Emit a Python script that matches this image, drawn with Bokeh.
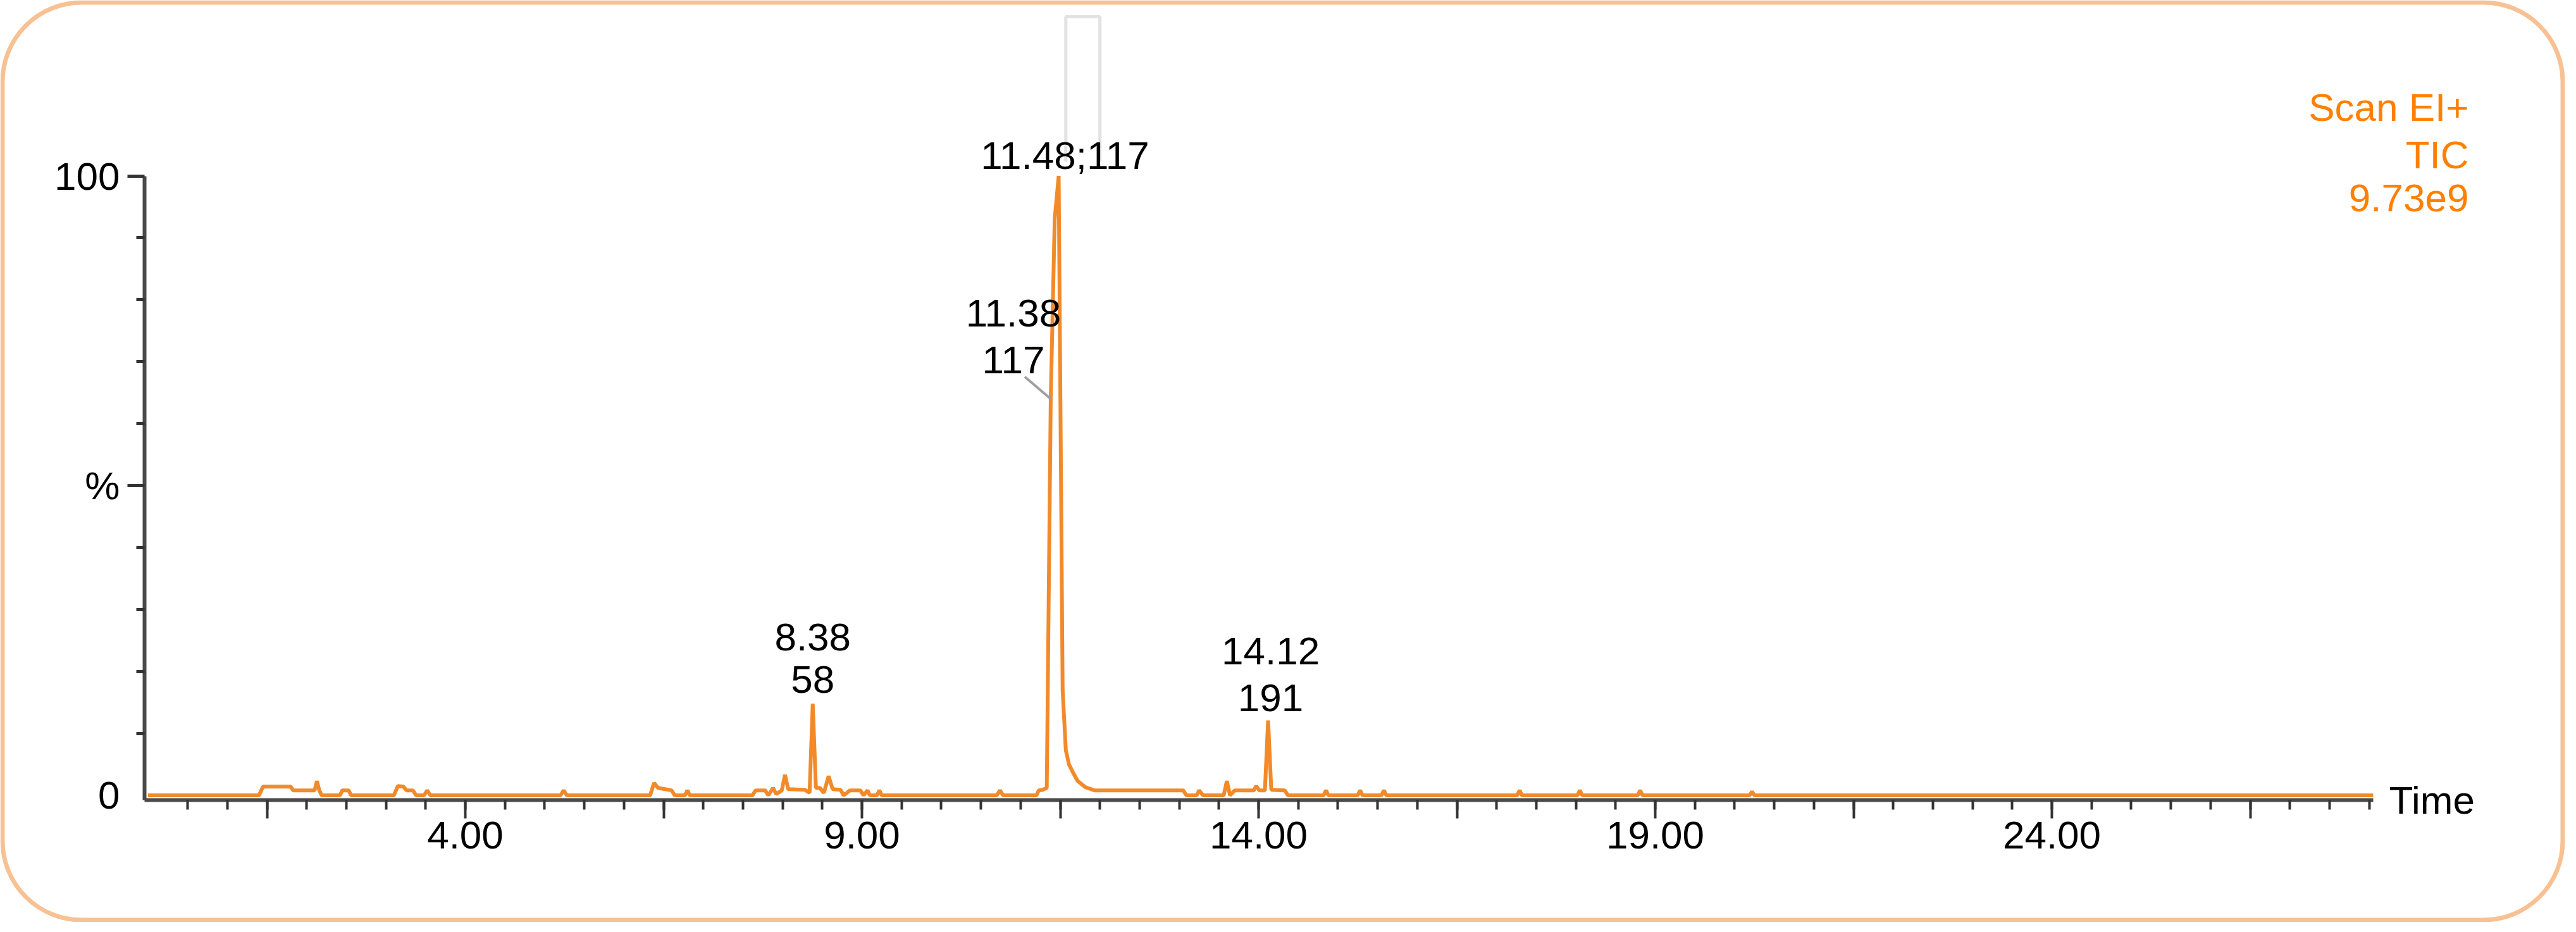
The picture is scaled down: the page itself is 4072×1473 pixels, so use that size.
from bokeh.plotting import figure
from bokeh.models import (Range1d, FixedTicker, PrintfTickFormatter, Label, BoxAnnotation,
                          LinearAxis)
from bokeh.embed import file_html
from bokeh.resources import INLINE

# ---------------- data ----------------
time_min = [0.00, 1.40, 1.45, 1.80, 1.83, 2.10, 2.13, 2.16, 2.19, 2.42, 2.45, 2.53, 2.56,
            3.10, 3.15, 3.22, 3.26, 3.34, 3.38, 3.48, 3.52, 3.56, 5.20, 5.24, 5.28,
            6.33, 6.38, 6.43, 6.60, 6.64, 6.77, 6.80, 6.83, 7.62, 7.66, 7.78, 7.82,
            7.88, 7.92, 7.99, 8.03, 8.07, 8.28, 8.34, 8.38, 8.42, 8.47, 8.52, 8.58,
            8.63, 8.73, 8.77, 8.85, 8.98, 9.02, 9.07, 9.10, 9.19, 9.22, 9.25,
            10.70, 10.74, 10.78, 11.20, 11.23, 11.28, 11.33, 11.38, 11.43, 11.48,
            11.53, 11.57, 11.61, 11.66, 11.72, 11.82, 11.93, 13.05, 13.09, 13.22,
            13.25, 13.30, 13.56, 13.60, 13.64, 13.70, 13.94, 13.97, 14.01, 14.08,
            14.12, 14.16, 14.33, 14.37, 14.82, 14.85, 14.88, 15.25, 15.28, 15.31,
            15.55, 15.58, 15.61, 17.26, 17.29, 17.32, 18.02, 18.05, 18.08, 18.78,
            18.81, 18.84, 20.19, 20.22, 20.25, 28.05]
tic_pct = [0.0, 0.0, 1.4, 1.4, 0.8, 0.8, 2.3, 0.8, 0.0, 0.0, 0.8, 0.8, 0.0,
           0.0, 1.5, 1.4, 0.8, 0.8, 0.0, 0.0, 0.8, 0.0, 0.0, 0.8, 0.0,
           0.0, 2.0, 1.2, 0.8, 0.0, 0.0, 0.8, 0.0, 0.0, 0.8, 0.8, 0.0,
           1.2, 0.2, 0.8, 3.3, 1.0, 0.9, 0.4, 14.8, 1.2, 1.2, 0.4, 3.1,
           1.0, 0.9, 0.0, 0.8, 0.8, 0.0, 0.8, 0.0, 0.0, 0.8, 0.0,
           0.0, 0.8, 0.0, 0.0, 0.8, 0.9, 1.2, 64.0, 93.0, 100.0,
           17.0, 7.3, 5.0, 3.7, 2.3, 1.3, 0.8, 0.8, 0.0, 0.0,
           0.8, 0.0, 0.0, 2.3, 0.0, 0.8, 0.8, 1.5, 0.8, 0.8,
           12.1, 0.9, 0.8, 0.0, 0.0, 0.8, 0.0, 0.0, 0.8, 0.0,
           0.0, 0.8, 0.0, 0.0, 0.8, 0.0, 0.0, 0.8, 0.0, 0.0,
           0.8, 0.0, 0.0, 0.6, 0.0, 0.0]

# labelled peaks
peak_rt = [8.38, 14.12]
peak_mz = ["58", "191"]
peak_pct = [14.8, 12.1]
base_peak_rt = 11.48
base_peak_mz = "117"
base_peak_pct = 100.0
shoulder_rt = 11.38
shoulder_mz = "117"
shoulder_pct = 64.0

# faint grey box drawn above the base peak
box_t = [11.57, 11.57, 12.00, 12.00]
box_pct = [102.3, 125.7, 125.7, 102.3]

# axis ticks
x_major_ticks = [1.5, 4.0, 6.5, 9.0, 11.5, 14.0, 16.5, 19.0, 21.5, 24.0, 26.5]
x_labeled_ticks = [4.0, 9.0, 14.0, 19.0, 24.0]
x_minor_ticks = [0.5, 1.0, 1.5, 2.0, 2.5, 3.0, 3.5, 4.0, 4.5, 5.0, 5.5, 6.0, 6.5, 7.0,
                 7.5, 8.0, 8.5, 9.0, 9.5, 10.0, 10.5, 11.0, 11.5, 12.0, 12.5, 13.0,
                 13.5, 14.0, 14.5, 15.0, 15.5, 16.0, 16.5, 17.0, 17.5, 18.0, 18.5,
                 19.0, 19.5, 20.0, 20.5, 21.0, 21.5, 22.0, 22.5, 23.0, 23.5, 24.0,
                 24.5, 25.0, 25.5, 26.0, 26.5, 27.0, 27.5, 28.0]
y_major_ticks = [50, 100]          # long ticks (labelled "%" and "100")
y_zero_tick = [0]                  # labelled "0", drawn without a tick mark
y_minor_ticks = [10, 20, 30, 40, 60, 70, 80, 90]
info_lines = ["Scan EI+", "TIC", "9.73e9"]
time_end = 28.05

# ---------------- layout / style (page pixel calibration) ----------------
PAGE_MARGIN = 8
W, H = 4056, 1457
T0_PX, PX_PER_MIN = 241.4, 125.4      # page x of t = 0, pixels per minute
Y0_PX, PX_PER_PCT = 1264.5, 9.79      # page y of 0 %, pixels per percent
AXIS_X_PX, AXIS_Y_PX = 236, 1271.5    # page position of the y-axis / x-axis lines


def x_of(px):
    return (px - T0_PX) / PX_PER_MIN


def y_of(py):
    return (Y0_PX - py) / PX_PER_PCT


X_START, X_END = x_of(PAGE_MARGIN), x_of(PAGE_MARGIN + W)
Y_START, Y_END = y_of(PAGE_MARGIN + H), y_of(PAGE_MARGIN)
X_AXIS_AT, Y_AXIS_AT = y_of(AXIS_Y_PX), x_of(AXIS_X_PX)

ORANGE = "#F28A2A"
TXT_ORANGE = "#FF8000"
FONT = "Liberation Sans"
FS = "62px"

p = figure(width=W, height=H, output_backend="svg", toolbar_location=None,
           x_range=Range1d(X_START, X_END), y_range=Range1d(Y_START, Y_END),
           min_border=0)
p.xgrid.visible = False
p.ygrid.visible = False
p.outline_line_color = None
p.background_fill_color = "white"
p.border_fill_color = "white"

xa = p.xaxis[0]
xa.fixed_location = X_AXIS_AT
xa.bounds = (Y_AXIS_AT, time_end)
xa.ticker = FixedTicker(ticks=x_major_ticks, minor_ticks=x_minor_ticks)
xa.formatter = PrintfTickFormatter(format="%.2f")
xa.major_label_overrides = {t: "" for t in x_major_ticks if t not in x_labeled_ticks}
xa.axis_line_color = "#4A4A4A"
xa.axis_line_width = 6
xa.major_tick_line_color = "#333333"
xa.major_tick_line_width = 4
xa.major_tick_out = 29
xa.major_tick_in = 0
xa.minor_tick_line_color = "#333333"
xa.minor_tick_line_width = 4
xa.minor_tick_out = 15
xa.minor_tick_in = 0
xa.major_label_text_font = FONT
xa.major_label_text_font_size = FS
xa.major_label_text_color = "black"
xa.major_label_standoff = 6

ya = p.yaxis[0]
ya.fixed_location = Y_AXIS_AT
ya.bounds = (X_AXIS_AT, 100)
ya.ticker = FixedTicker(ticks=y_major_ticks, minor_ticks=y_minor_ticks)
ya.formatter = PrintfTickFormatter(format="%d")
ya.major_label_overrides = {50: "%"}
ya.axis_line_color = "#4A4A4A"
ya.axis_line_width = 6
ya.major_tick_line_color = "#333333"
ya.major_tick_line_width = 5
ya.major_tick_out = 27
ya.major_tick_in = 0
ya.minor_tick_line_color = "#333333"
ya.minor_tick_line_width = 5
ya.minor_tick_out = 13
ya.minor_tick_in = 0
ya.major_label_text_font = FONT
ya.major_label_text_font_size = FS
ya.major_label_text_color = "black"
ya.major_label_standoff = 12

# second left axis at the same place: only the "0" label, no tick mark
ya0 = LinearAxis(fixed_location=Y_AXIS_AT,
                 ticker=FixedTicker(ticks=y_zero_tick, minor_ticks=[]),
                 formatter=PrintfTickFormatter(format="%d"),
                 axis_line_color=None, major_tick_line_color=None,
                 minor_tick_line_color=None, major_tick_out=0, major_tick_in=0,
                 minor_tick_out=0, minor_tick_in=0, major_label_standoff=39,
                 major_label_text_font=FONT, major_label_text_font_size=FS,
                 major_label_text_color="black")
p.add_layout(ya0, "left")

# grey box and trace
p.line(box_t, box_pct, line_color="#E2E2E2", line_width=5)
p.line(time_min, tic_pct, line_color=ORANGE, line_width=6, line_join="bevel")

# leader line for the shoulder label
p.segment(x0=[shoulder_rt - 41 / PX_PER_MIN], y0=[shoulder_pct + 35 / PX_PER_PCT],
          x1=[shoulder_rt], y1=[shoulder_pct], line_color="#A0A0A0", line_width=4)


def add_label(x, y, text, align="center", x_offset=0, color="black"):
    p.add_layout(Label(x=x, y=y, text=text, x_offset=x_offset,
                       text_font=FONT, text_font_size=FS, text_color=color,
                       text_align=align, text_baseline="middle"))


# peak annotations: vertical gaps (px) from the apex to the centre of each text line
peak_gaps = [(38, 105, 0), (36, 110, 4)]
for rt, mz, pct, (g1, g2, dx) in zip(peak_rt, peak_mz, peak_pct, peak_gaps):
    add_label(rt, pct + g1 / PX_PER_PCT, mz, x_offset=dx)
    add_label(rt, pct + g2 / PX_PER_PCT, f"{rt:.2f}", x_offset=dx)
add_label(base_peak_rt, base_peak_pct + 33 / PX_PER_PCT,
          f"{base_peak_rt:.2f};{base_peak_mz}", x_offset=10)
add_label(shoulder_rt, shoulder_pct + 61 / PX_PER_PCT, shoulder_mz, x_offset=-59)
add_label(shoulder_rt, shoulder_pct + 135 / PX_PER_PCT, f"{shoulder_rt:.2f}", x_offset=-59)

# axis title and trace description (page y of the text-line centres)
add_label(x_of(3784), y_of(1271.5), "Time", align="left")
for line_txt, mid_py in zip(info_lines, [176.5, 251.5, 320]):
    add_label(x_of(3910), y_of(mid_py), line_txt, align="right", color=TXT_ORANGE)

# rounded frame around the chart
p.add_layout(BoxAnnotation(left=x_of(11.5), right=x_of(4058.5), top=y_of(11.5),
                           bottom=y_of(1461.5), fill_alpha=0, line_alpha=1.0,
                           line_color="#F8C193", line_width=7, border_radius=125))

open("out.html", "w").write(file_html(p, INLINE, title="TIC"))
